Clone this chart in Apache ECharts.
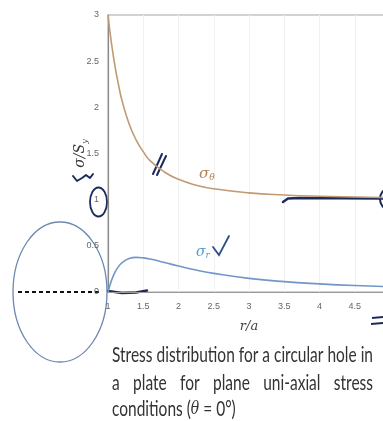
<!DOCTYPE html>
<html>
<head>
<meta charset="utf-8">
<script src="https://cdn.jsdelivr.net/npm/echarts@6/dist/echarts.min.js"></script>
<style>
  html, body { margin: 0; padding: 0; background: #fff; }
  #chart { width: 383px; height: 421px; }
</style>
</head>
<body>
<div id="chart"></div>
<script>
// r/a positions and the two stress curves
var rValues    = [1, 1.05, 1.1, 1.15, 1.2, 1.3, 1.4, 1.5, 1.6, 1.8, 2, 2.25, 2.5, 3, 3.5, 4, 4.5, 5];
var sigmaTheta = [3, 2.69, 2.44, 2.24, 2.07, 1.82, 1.645, 1.52, 1.42, 1.3, 1.22, 1.157, 1.118, 1.074, 1.051, 1.037, 1.029, 1.022];
var sigmaR     = [0, 0.126, 0.215, 0.276, 0.318, 0.362, 0.375, 0.37, 0.357, 0.32, 0.281, 0.238, 0.202, 0.148, 0.112, 0.088, 0.07, 0.058];

var xTicks = [1, 1.5, 2, 2.5, 3, 3.5, 4, 4.5, 5];
var yTicks = [0, 0.5, 1, 1.5, 2, 2.5, 3];

var captionLines = [
  'Stress distribution for a circular hole in',
  'a plate for plane uni-axial stress',
  'conditions ('
];

var ink = '#1c2b5e';
var thetaColor = '#c29a72';
var rColor = '#7197c9';

var myChart = echarts.init(document.getElementById('chart'));

function pairs(ys) {
  return rValues.map(function (r, i) { return [r, ys[i]]; });
}

var option = {
  animation: false,
  grid: {
    left: 108, top: 15, width: 282, height: 277,
    outerBoundsMode: 'none',
    show: true, borderColor: '#c4c4c4', borderWidth: 1.5
  },
  xAxis: {
    type: 'value',
    min: xTicks[0], max: xTicks[xTicks.length - 1], interval: 0.5,
    name: 'r/a', nameLocation: 'middle', nameGap: 28, nameMoveOverlap: false,
    nameTextStyle: { fontFamily: 'DejaVu Serif', fontStyle: 'italic', fontSize: 13, color: '#444' },
    axisLine: { lineStyle: { color: '#9a9a9a', width: 1.2 } },
    axisTick: { show: false },
    axisLabel: { fontSize: 9, color: '#666', margin: 10, fontFamily: 'Liberation Sans Narrow, Liberation Sans' },
    splitLine: { show: true, lineStyle: { color: '#f1f1f1' } }
  },
  yAxis: {
    type: 'value',
    min: yTicks[0], max: yTicks[yTicks.length - 1], interval: 0.5,
    name: '{a|\u03c3/S}{s|y}', nameLocation: 'middle', nameGap: 19, nameMoveOverlap: false,
    nameTextStyle: {
      rich: {
        a: { fontFamily: 'DejaVu Serif', fontStyle: 'italic', fontSize: 14, color: '#333' },
        s: { fontFamily: 'DejaVu Serif', fontStyle: 'italic', fontSize: 8, color: '#333', padding: [9, 0, 0, 0] }
      }
    },
    axisLine: { show: true, lineStyle: { color: '#8a8a8a', width: 1.2 } },
    axisTick: { show: false },
    axisLabel: { fontSize: 9, color: '#666', margin: 9, fontFamily: 'Liberation Sans Narrow, Liberation Sans' },
    splitLine: { show: false }
  },
  series: [
    {
      name: 'sigma_theta', type: 'line', smooth: true, symbol: 'none',
      data: pairs(sigmaTheta),
      lineStyle: { color: thetaColor, width: 1.6 }
    },
    {
      name: 'sigma_r', type: 'line', smooth: true, symbol: 'none',
      data: pairs(sigmaR),
      lineStyle: { color: rColor, width: 1.6 }
    }
  ]
};

myChart.setOption(option);

// caption under the chart, narrow and tall like the reference
var ctx = document.createElement('canvas').getContext('2d');
var capFont = '21px Lato';
ctx.font = capFont;
var capLeft = 112, capWidth = 261;
var sx = capWidth / ctx.measureText(captionLines[0]).width;
var capY = [355, 383, 409];
var graphics = [];

function capText(str, x, y) {
  return {
    type: 'text', x: x, y: y, scaleX: sx, scaleY: 1,
    style: { text: str, font: capFont, fill: '#333', verticalAlign: 'middle' }
  };
}

graphics.push(capText(captionLines[0], capLeft, capY[0]));

// justified second line
var words = captionLines[1].split(' ');
var wsum = 0;
words.forEach(function (w) { wsum += ctx.measureText(w).width * sx; });
var gap = (capWidth - wsum) / (words.length - 1);
var cx = capLeft;
words.forEach(function (w) {
  graphics.push(capText(w, cx, capY[1]));
  cx += ctx.measureText(w).width * sx + gap;
});

// third line with italic theta
graphics.push({
  type: 'text', x: capLeft, y: capY[2], scaleX: sx,
  style: {
    text: '{n|' + captionLines[2] + '}{t|\u03b8}{n| = 0\u00b0)}',
    verticalAlign: 'middle',
    rich: {
      n: { font: capFont, fill: '#333' },
      t: { fontFamily: 'DejaVu Serif', fontStyle: 'italic', fontSize: 19, fill: '#333' }
    }
  }
});

// curve labels
graphics.push({
  type: 'text', x: 199, y: 174,
  style: { text: '{a|\u03c3}{b|\u03b8}', verticalAlign: 'middle',
    rich: {
      a: { fontFamily: 'DejaVu Serif', fontStyle: 'italic', fontSize: 15, fill: '#b57f52' },
      b: { fontFamily: 'DejaVu Serif', fontStyle: 'italic', fontSize: 9, fill: '#b57f52', padding: [8, 0, 0, 0] }
    }
  }
});
graphics.push({
  type: 'text', x: 196, y: 252,
  style: { text: '{a|\u03c3}{b|r}', verticalAlign: 'middle',
    rich: {
      a: { fontFamily: 'DejaVu Serif', fontStyle: 'italic', fontSize: 14, fill: '#4a9bd2' },
      b: { fontFamily: 'DejaVu Serif', fontStyle: 'italic', fontSize: 9, fill: '#4a9bd2', padding: [7, 0, 0, 0] }
    }
  }
});

// hand-drawn annotations
var hand = { stroke: ink, lineWidth: 2, fill: null, lineCap: 'round', lineJoin: 'round' };
graphics.push({ type: 'ellipse', shape: { cx: 60, cy: 292, rx: 47, ry: 70 }, style: { stroke: '#6c88b0', lineWidth: 1.3, fill: null } });
graphics.push({ type: 'line', shape: { x1: 18, y1: 292, x2: 101, y2: 292 }, style: { stroke: '#111', lineWidth: 2, lineDash: [4, 3] } });
graphics.push({ type: 'ellipse', shape: { cx: 98.5, cy: 202, rx: 8.5, ry: 14.5 }, style: { stroke: ink, lineWidth: 1.8, fill: null } });
graphics.push({ type: 'polyline', shape: { points: [[73, 176], [77, 181], [82, 178], [86, 175], [90, 178], [93, 174]] }, style: hand });
graphics.push({ type: 'line', shape: { x1: 153, y1: 174, x2: 162, y2: 154 }, style: hand });
graphics.push({ type: 'line', shape: { x1: 157, y1: 175, x2: 166, y2: 156 }, style: hand });
graphics.push({ type: 'polyline', shape: { points: [[213, 247], [219, 255], [229, 236]] }, style: { stroke: '#2e4f86', lineWidth: 1.8, fill: null, lineCap: 'round' } });
graphics.push({ type: 'polyline', shape: { points: [[108, 291], [122, 293], [136, 292.5], [147, 290.5]] }, style: { stroke: ink, lineWidth: 2.4, fill: null, lineCap: 'round' } });
graphics.push({ type: 'polyline', shape: { points: [[283, 202], [288, 198.5], [300, 198], [383, 198.5]] }, style: { stroke: ink, lineWidth: 2.4, fill: null, lineCap: 'round' } });
graphics.push({ type: 'ellipse', shape: { cx: 388, cy: 199, rx: 8, ry: 10 }, style: { stroke: ink, lineWidth: 2, fill: null } });
graphics.push({ type: 'line', shape: { x1: 372, y1: 318, x2: 383, y2: 317 }, style: { stroke: ink, lineWidth: 1.8 } });
graphics.push({ type: 'line', shape: { x1: 371, y1: 324, x2: 383, y2: 323 }, style: { stroke: ink, lineWidth: 1.8 } });

myChart.setOption({ graphic: { elements: graphics } });
</script>
</body>
</html>
